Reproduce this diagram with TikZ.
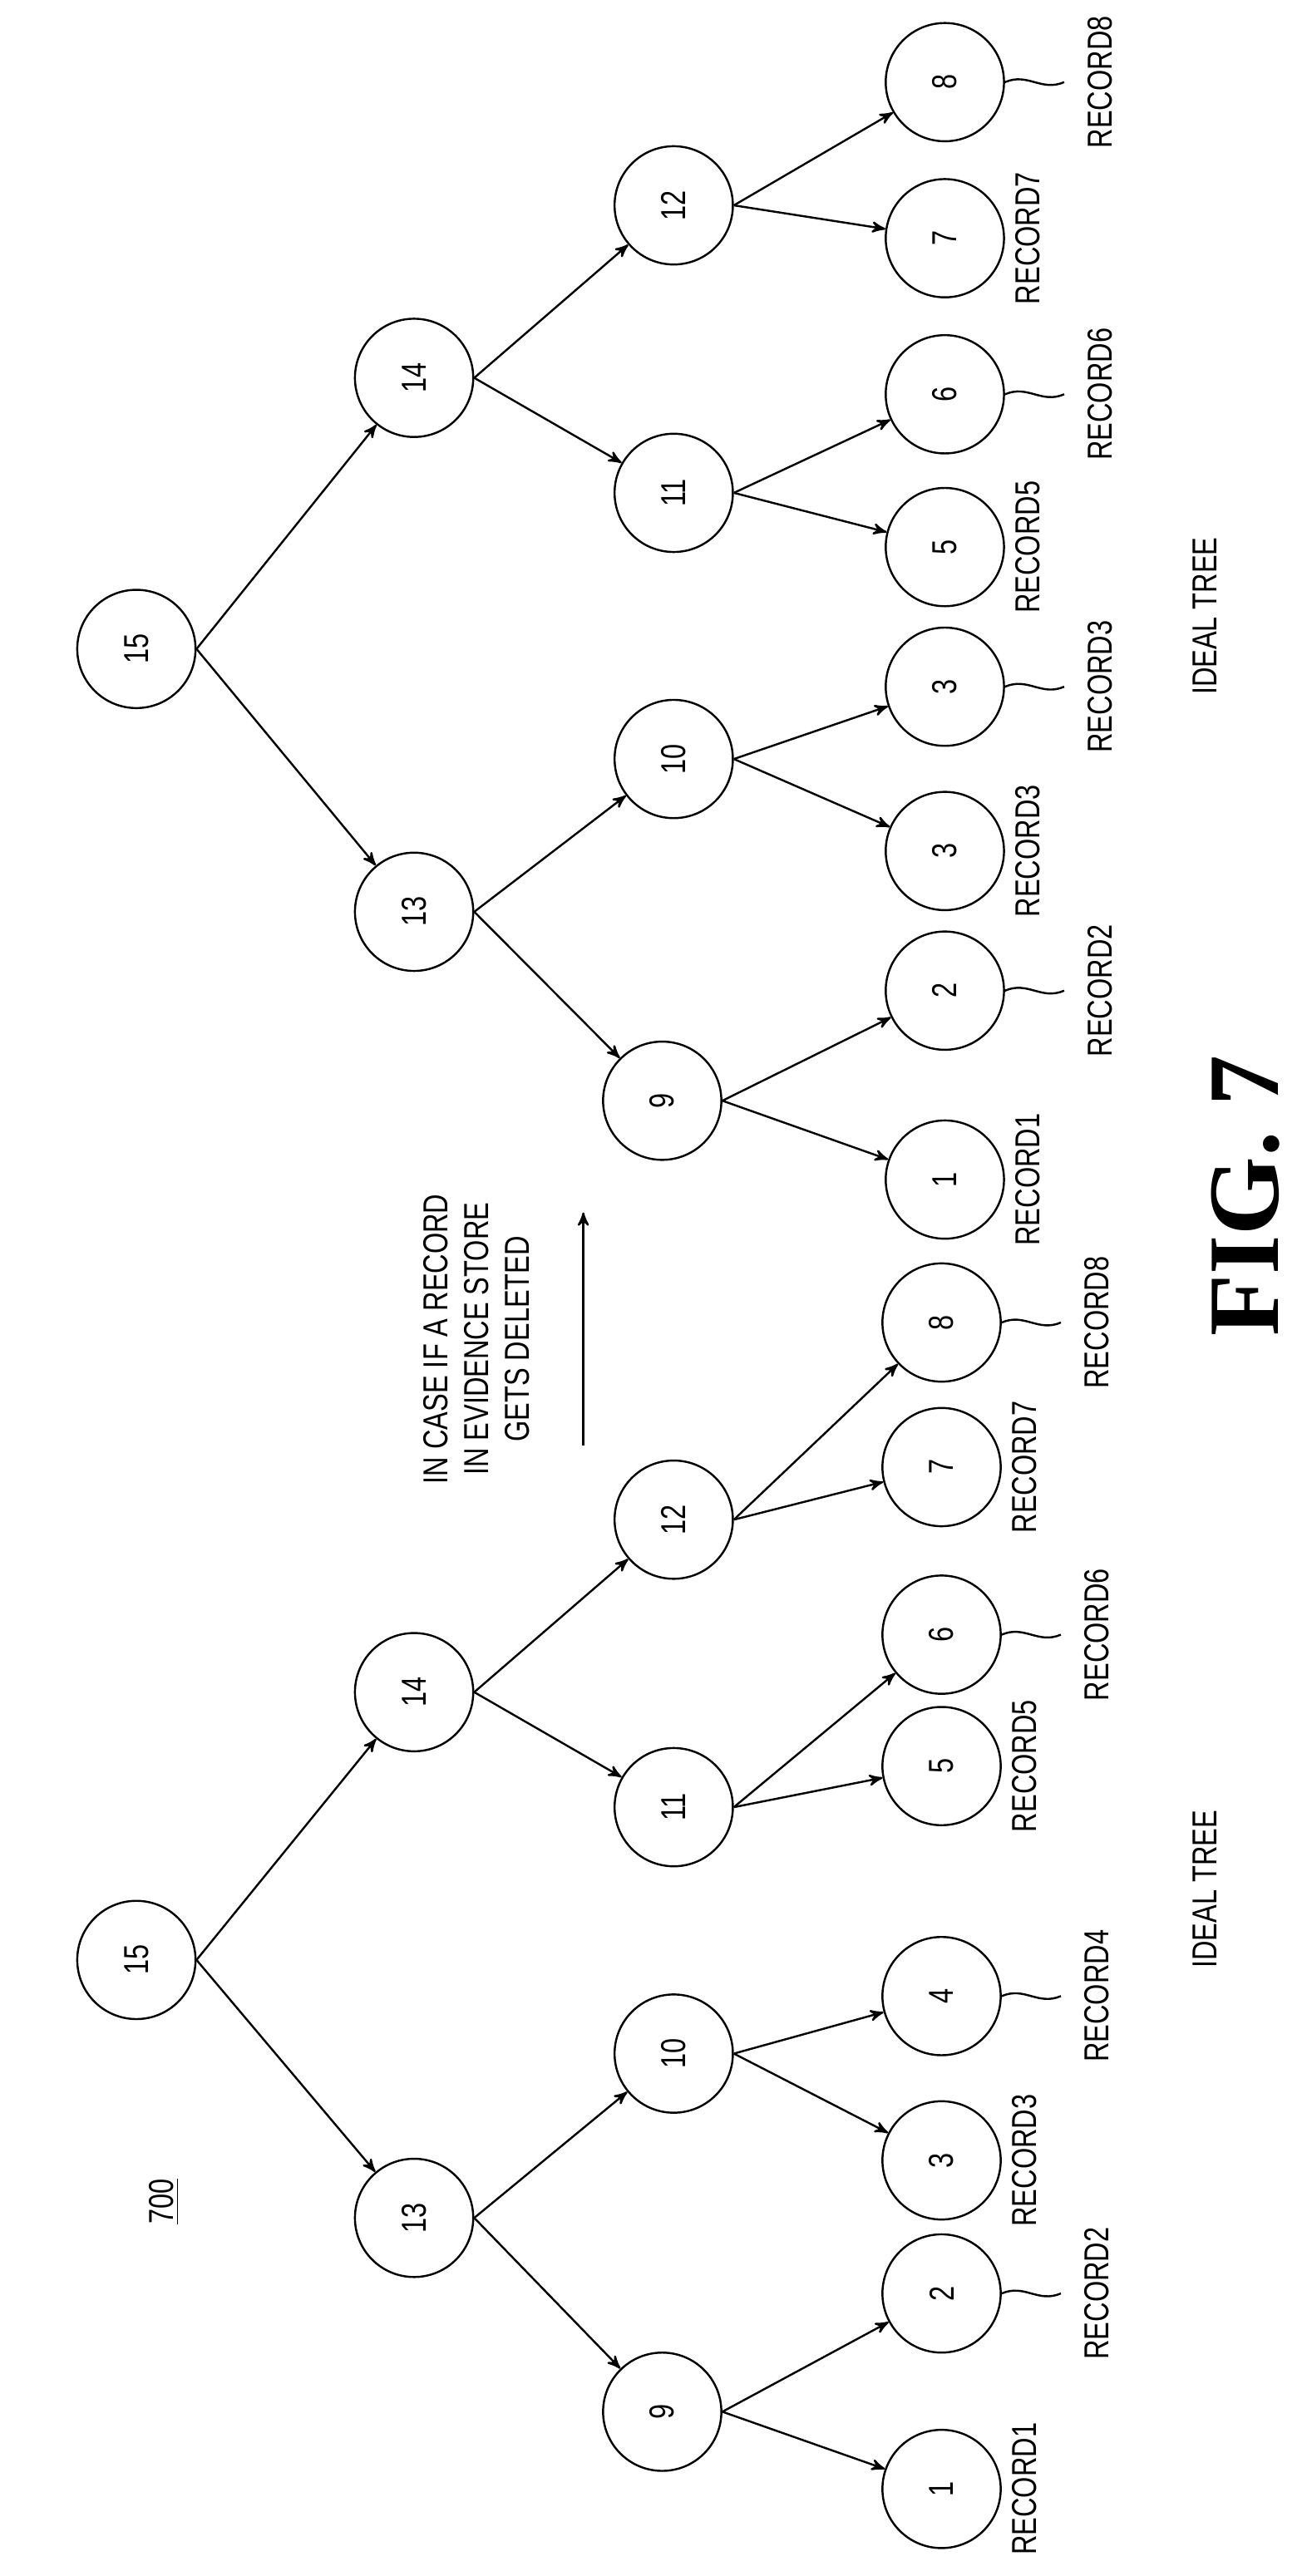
\documentclass[tikz,border=0pt]{standalone}
\usepackage{fontspec}
\setmainfont[FakeStretch=0.78]{Liberation Sans}
\newfontfamily\figfont{Liberation Serif}
\usetikzlibrary{shapes,arrows,calc}
\tikzstyle{circ} = [draw, circle, minimum size=1.44cm, inner sep=0pt, font=\large]
\tikzstyle{lbl} = [draw=none, rotate=90, font=\large]
\tikzstyle{edge} = [->, >=stealth', shorten >=0pt]

\begin{document}
\begin{tikzpicture}[x=0.02cm, y=-0.02cm, line width=0.7pt]
    \useasboundingbox (0,0) rectangle (792,1568);

    % lower tree (before deletion)
    \foreach \n/\x/\y/\t in {a15/83/1193/15, a13/252/1350/13, a14/252/1030/14,
        a9/403/1468/9, a10/410/1250/10, a11/410/1100/11, a12/410/925/12}
        \node [circ, name=\n] at (\x,\y) {\rotatebox{90}{\t}};
    \foreach \n/\y/\t in {b1/1515/1, b2/1396/2, b3/1315/3, b4/1215/4,
        b5/1075/5, b6/995/6, b7/893/7, b8/805/8}
        \node [circ, name=\n] at (573,\y) {\rotatebox{90}{\t}};
    \foreach \n/\r in {b1/1, b3/3, b5/5, b7/7}
        \node [lbl, anchor=north] at (\n.east) {RECORD\r};
    \foreach \n/\r in {b2/2, b4/4, b6/6, b8/8} {
        \draw (\n.east) .. controls +(14,-6) and +(-14,6) .. ++(36,0);
        \node [lbl, anchor=north] at ($(\n.east)+(44,0)$) {RECORD\r};
    }

    % upper tree (ideal)
    \foreach \n/\x/\y/\t in {c15/83/395/15, c13/252/555/13, c14/252/230/14,
        c9/403/670/9, c10/410/462/10, c11/410/300/11, c12/410/125/12}
        \node [circ, name=\n] at (\x,\y) {\rotatebox{90}{\t}};
    \foreach \n/\y/\t in {d1/718/1, d2/603/2, d3/518/3, d4/418/3,
        d5/333/5, d6/240/6, d7/145/7, d8/50/8}
        \node [circ, name=\n] at (575,\y) {\rotatebox{90}{\t}};
    \foreach \n/\r in {d1/1, d3/3, d5/5, d7/7}
        \node [lbl, anchor=north] at (\n.east) {RECORD\r};
    \foreach \n/\r in {d2/2, d4/3, d6/6, d8/8} {
        \draw (\n.east) .. controls +(14,-6) and +(-14,6) .. ++(36,0);
        \node [lbl, anchor=north] at ($(\n.east)+(44,0)$) {RECORD\r};
    }

    \foreach \t in {a, c} {
        \draw [edge] (\t15.east) -- (\t13);
        \draw [edge] (\t15.east) -- (\t14);
        \draw [edge] (\t13.east) -- (\t9);
        \draw [edge] (\t13.east) -- (\t10);
        \draw [edge] (\t14.east) -- (\t11);
        \draw [edge] (\t14.east) -- (\t12);
    }
    \foreach \p/\c/\l in {a9/b1/b2, a10/b3/b4, a11/b5/b6, a12/b7/b8,
        c9/d1/d2, c10/d3/d4, c11/d5/d6, c12/d7/d8} {
        \draw [edge] (\p.east) -- (\c);
        \draw [edge] (\p.east) -- (\l);
    }

    \node [lbl, name=num] at (100,1340) {\underline{700}};
    \node [lbl, name=ideal1] at (733,1150) {IDEAL TREE};
    \node [lbl, name=ideal2] at (733,375) {IDEAL TREE};
    \node [lbl, align=center, name=note] at (290,815)
        {IN CASE IF A RECORD\\IN EVIDENCE STORE\\GETS DELETED};
    \coordinate (from) at (355,880);
    \coordinate (to) at (355,738);
    \draw [edge] (from) -- (to);
    \node [draw=none, rotate=90, font=\figfont\bfseries\fontsize{35}{38}\selectfont, name=fig] at (758,728) {FIG. 7};

\end{tikzpicture}
\end{document}
